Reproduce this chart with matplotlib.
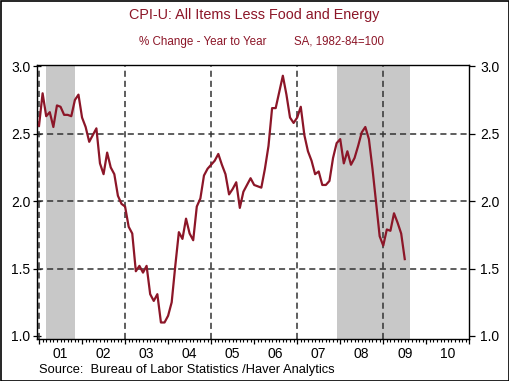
import matplotlib
matplotlib.use("Agg")
import matplotlib.pyplot as plt
from matplotlib.patches import Rectangle
from matplotlib.ticker import FixedLocator, NullFormatter
import numpy as np

plt.rcParams['font.family'] = ['Liberation Sans', 'DejaVu Sans']

# ---- data (monthly, % change year to year) ----
start_year = 2001
v2001 = [2.56, 2.80, 2.63, 2.66, 2.55, 2.71, 2.70, 2.64, 2.64, 2.63, 2.75, 2.79]
v2002 = [2.62, 2.55, 2.44, 2.49, 2.54, 2.28, 2.20, 2.36, 2.25, 2.20, 2.04, 1.98]
v2003 = [1.96, 1.81, 1.76, 1.48, 1.52, 1.47, 1.52, 1.31, 1.26, 1.31, 1.10, 1.10]
v2004 = [1.15, 1.25, 1.52, 1.77, 1.72, 1.87, 1.76, 1.71, 1.96, 2.02, 2.19, 2.24]
v2005 = [2.27, 2.30, 2.35, 2.27, 2.20, 2.05, 2.09, 2.14, 1.95, 2.07, 2.12, 2.17]
v2006 = [2.12, 2.11, 2.10, 2.24, 2.41, 2.69, 2.69, 2.81, 2.93, 2.79, 2.62, 2.58]
v2007 = [2.62, 2.70, 2.49, 2.37, 2.30, 2.20, 2.22, 2.12, 2.12, 2.15, 2.32, 2.43]
v2008 = [2.46, 2.28, 2.37, 2.27, 2.32, 2.41, 2.51, 2.55, 2.46, 2.24, 1.99, 1.74]
v2009 = [1.67, 1.79, 1.78, 1.91, 1.84, 1.76, 1.57]

recession_starts = [2001 + 2/12, 2007 + 11/12]
recession_ends = [2001 + 10/12, 2009.63]

year_labels = ['01', '02', '03', '04', '05', '06', '07', '08', '09', '10']
y_ticks = [1.0, 1.5, 2.0, 2.5, 3.0]
y_grid = [1.5, 2.0, 2.5]
x_grid_years = [2001, 2003, 2005, 2007, 2009]

title = 'CPI-U: All Items Less Food and Energy'
subtitle_left = '% Change - Year to Year'
subtitle_right = 'SA, 1982-84=100'
source = 'Source:  Bureau of Labor Statistics /Haver Analytics'

values = np.array(v2001 + v2002 + v2003 + v2004 + v2005 + v2006 + v2007 + v2008 + v2009)
t = start_year + np.arange(len(values)) / 12.0

# ---- figure ----
W, H = 510, 381
fig = plt.figure(figsize=(W / 100, H / 100), dpi=100)
fig.patch.set_facecolor('white')

left_px, right_px, top_px, bot_px = 37.3, 469.3, 64.7, 338.8
ax = fig.add_axes([left_px / W, 1 - bot_px / H, (right_px - left_px) / W, (bot_px - top_px) / H])

dark_red = '#8C1628'
grid_col = '#333333'

for s, e in zip(recession_starts, recession_ends):
    ax.axvspan(s, e, color='#C8C8C8', lw=0, zorder=1)

for g in y_grid:
    ax.axhline(g, color=grid_col, lw=1.1, dashes=(4, 2.6), zorder=2)
for g in x_grid_years:
    ax.axvline(g, color=grid_col, lw=1.1, dashes=(4, 2.6), zorder=2)

ax.plot(t, values, color=dark_red, lw=1.6, zorder=3, solid_joinstyle='round')

ax.set_xlim(2000.96, 2011.0)
ax.set_ylim(0.979, 3.012)

for sp in ax.spines.values():
    sp.set_linewidth(1.0)
    sp.set_color('black')

# y axis
ax.set_yticks(y_ticks)
ax.set_yticklabels([f'{v:.1f}' for v in y_ticks])
ax.tick_params(axis='y', which='major', direction='inout', length=5.8, width=0.9,
               labelsize=10, pad=2.2, left=True, right=False)
axr = ax.twinx()
axr.set_ylim(ax.get_ylim())
axr.set_yticks(y_ticks)
axr.set_yticklabels([f'{v:.1f}' for v in y_ticks])
axr.tick_params(axis='y', direction='out', length=4.0, width=0.9, labelsize=10, pad=4.0)
for sp in axr.spines.values():
    sp.set_visible(False)

# x axis
years = np.arange(2001, 2012)
ax.xaxis.set_major_locator(FixedLocator(years))
ax.xaxis.set_major_formatter(NullFormatter())
months = [y + m / 12 for y in range(2001, 2011) for m in range(1, 12)]
ax.xaxis.set_minor_locator(FixedLocator(months))
ax.tick_params(axis='x', which='major', direction='out', length=3.8, width=0.9)
ax.tick_params(axis='x', which='minor', direction='out', length=1.8, width=0.8)

sec = ax.secondary_xaxis('bottom')
sec.set_xticks([y + 0.5 for y in range(2001, 2011)])
sec.set_xticklabels(year_labels)
sec.tick_params(axis='x', length=0, labelsize=10, pad=5.6)
sec.spines['bottom'].set_visible(False)

# texts
fig.text(254 / W, 1 - 15.5 / H, title, ha='center', va='center', fontsize=10.4, color=dark_red)
fig.text(139 / W, 1 - 42 / H, subtitle_left, ha='left', va='center', fontsize=8.4, color=dark_red)
fig.text(294 / W, 1 - 42 / H, subtitle_right, ha='left', va='center', fontsize=8.3, color=dark_red)
fig.text(39.3 / W, 1 - 369.5 / H, source, ha='left', va='center', fontsize=9.3, color='black')

fig.patches.append(Rectangle((0.5 / W, 0.5 / H), 1 - 1.5 / W, 1 - 1.5 / H,
                             transform=fig.transFigure, fill=False, lw=1.2, ec='black'))

fig.savefig('out.png', dpi=100)
